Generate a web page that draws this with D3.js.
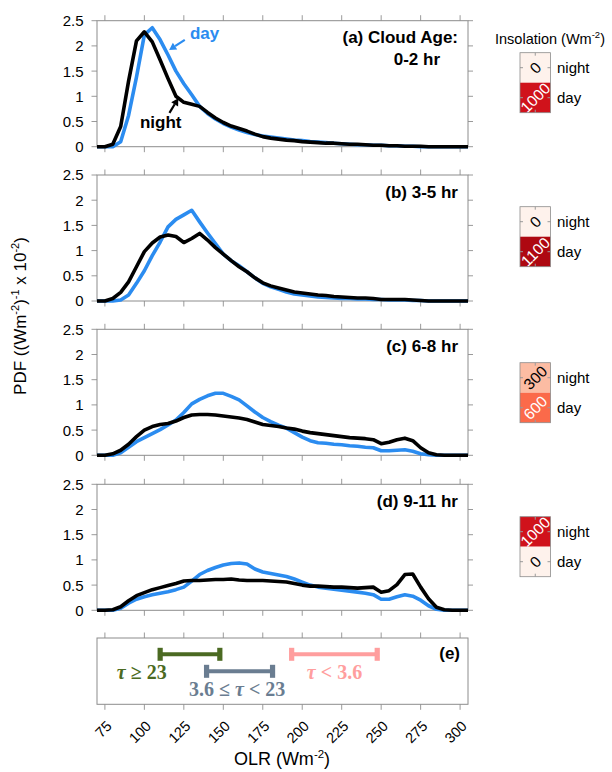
<!DOCTYPE html>
<html><head><meta charset="utf-8">
<script src="https://cdn.jsdelivr.net/npm/d3@7"></script>
<style>body{margin:0;background:#fff} svg{display:block}</style>
</head><body><svg id="c" width="612" height="772"></svg>
<script>
// ---------- DATA ----------
const olr = [70,75,80,85,90,95,100,105,110,115,120,125,130,135,140,145,150,155,160,165,170,175,180,185,190,195,200,205,210,215,220,225,230,235,240,245,250,255,260,265,270,275,280,285,290,295,300,305];

const dayA   = [0,0,0,0.1,0.62,1.38,2.22,2.36,2.12,1.82,1.5,1.25,1.03,0.8,0.66,0.55,0.46,0.39,0.33,0.28,0.24,0.21,0.19,0.17,0.15,0.13,0.12,0.1,0.09,0.08,0.07,0.06,0.05,0.04,0.04,0.03,0.03,0.02,0.02,0.01,0.01,0,0,0,0,0,0,0];
const nightA = [0,0,0.05,0.4,1.3,2.1,2.28,2.08,1.72,1.35,1.0,0.88,0.84,0.8,0.68,0.57,0.48,0.41,0.36,0.31,0.25,0.2,0.17,0.15,0.13,0.12,0.1,0.09,0.08,0.07,0.07,0.06,0.05,0.05,0.04,0.03,0.03,0.02,0.02,0.01,0.01,0.01,0,0,0,0,0,0];
const dayB   = [0,0,0,0.02,0.12,0.35,0.6,0.9,1.17,1.47,1.62,1.71,1.8,1.57,1.35,1.14,0.93,0.8,0.7,0.58,0.46,0.35,0.28,0.23,0.18,0.14,0.12,0.1,0.08,0.07,0.06,0.05,0.05,0.04,0.04,0.03,0.03,0.02,0.02,0.02,0.01,0.01,0,0,0,0,0,0];
const nightB = [0,0,0.05,0.17,0.38,0.68,0.98,1.15,1.27,1.31,1.28,1.16,1.24,1.34,1.21,1.06,0.93,0.8,0.68,0.58,0.46,0.36,0.3,0.26,0.22,0.18,0.16,0.14,0.12,0.11,0.09,0.08,0.07,0.06,0.06,0.05,0.03,0.03,0.03,0.03,0.02,0.01,0,0,0,0,0,0];
const dayC   = [0,0,0,0.05,0.16,0.27,0.35,0.43,0.51,0.6,0.7,0.85,1.02,1.11,1.18,1.23,1.23,1.17,1.1,0.98,0.86,0.75,0.67,0.6,0.54,0.45,0.36,0.29,0.25,0.24,0.22,0.21,0.19,0.18,0.16,0.15,0.09,0.09,0.1,0.11,0.08,0.03,0.01,0,0,0,0,0];
const nightC = [0,0,0.03,0.1,0.22,0.37,0.5,0.57,0.61,0.63,0.68,0.75,0.8,0.81,0.81,0.8,0.78,0.76,0.74,0.71,0.66,0.61,0.59,0.57,0.54,0.52,0.48,0.45,0.43,0.41,0.39,0.37,0.35,0.34,0.33,0.31,0.23,0.26,0.31,0.34,0.29,0.15,0.05,0.01,0,0,0,0];
const dayD   = [0,0,0,0.04,0.14,0.22,0.27,0.31,0.34,0.37,0.41,0.46,0.58,0.71,0.79,0.85,0.9,0.93,0.94,0.92,0.82,0.76,0.73,0.7,0.67,0.62,0.56,0.5,0.46,0.44,0.42,0.4,0.38,0.36,0.34,0.31,0.22,0.22,0.27,0.31,0.28,0.2,0.09,0.02,0,0,0,0];
const nightD = [0,0,0.01,0.07,0.19,0.29,0.35,0.41,0.45,0.49,0.53,0.58,0.59,0.59,0.6,0.61,0.61,0.62,0.6,0.59,0.59,0.59,0.58,0.57,0.56,0.53,0.5,0.48,0.48,0.47,0.46,0.46,0.45,0.44,0.45,0.46,0.36,0.39,0.51,0.71,0.72,0.46,0.23,0.06,0.01,0,0,0];

const daySeries   = [dayA, dayB, dayC, dayD];
const nightSeries = [nightA, nightB, nightC, nightD];
const panelTitles = ["(a) Cloud Age:", "(b) 3-5 hr", "(c) 6-8 hr", "(d) 9-11 hr"];
const nightInsol  = [0, 0, 300, 1000];
const dayInsol    = [1000, 1100, 600, 0];
const insolValues = [0, 300, 600, 1000, 1100];
const insolColors = ["#fef2ec", "#fcbca3", "#fb6a4a", "#d0121b", "#ae0811"];

const xTicks = [75,100,125,150,175,200,225,250,275,300];
const yTicks = [0,0.5,1,1.5,2,2.5];

const tauLabels = ["τ ≥ 23", "3.6 ≤ τ < 23", "τ < 3.6"];
const tauLo     = [110, 139.4, 193.3];
const tauHi     = [147.8, 181.2, 247.5];
const tauColors = ["#4b6a22", "#6a7d91", "#ff9e9e"];

// ---------- LAYOUT ----------
const svg = d3.select("#c");
const font = "'Liberation Sans', Arial, Helvetica, sans-serif";
const X0 = 97, X1 = 468;
const panelTops = [20.7, 175, 329.3, 484.3];
const PH = 126;
const x = d3.scaleLinear().domain([70, 305]).range([X0, X1]);
const insolColor = d3.scaleOrdinal().domain(insolValues).range(insolColors);
const blue = "#2b8cf0";
const frame = "#8c8c8c";
const tickCol = "#9a9a9a";

function xTickMarks(g, yTop, yBot) {
  g.selectAll(null).data(xTicks).enter().append("line")
    .attr("x1", d => x(d)).attr("x2", d => x(d))
    .attr("y1", yTop - 5.5).attr("y2", yTop).attr("stroke", tickCol);
  g.selectAll(null).data(xTicks).enter().append("line")
    .attr("x1", d => x(d)).attr("x2", d => x(d))
    .attr("y1", yBot).attr("y2", yBot + 5.5).attr("stroke", tickCol);
}

panelTops.forEach((top, i) => {
  const y = d3.scaleLinear().domain([0, 2.5]).range([top + PH, top]);
  const g = svg.append("g");
  g.selectAll(null).data(yTicks).enter().append("line")
    .attr("x1", X0 - 5.5).attr("x2", X0).attr("y1", d => y(d)).attr("y2", d => y(d)).attr("stroke", tickCol);
  g.selectAll(null).data(yTicks).enter().append("line")
    .attr("x1", X1).attr("x2", X1 + 5).attr("y1", d => y(d)).attr("y2", d => y(d)).attr("stroke", tickCol);
  g.selectAll(null).data(yTicks).enter().append("text")
    .attr("x", 83.5).attr("y", d => y(d)).attr("dy", "0.36em")
    .attr("text-anchor", "end").attr("font-family", font).attr("font-size", 15)
    .text(d => d);
  xTickMarks(g, top, top + PH);
  g.append("rect").attr("x", X0).attr("y", top).attr("width", X1 - X0).attr("height", PH)
    .attr("fill", "none").attr("stroke", frame).attr("stroke-width", 1);
  const line = d3.line().x((d, k) => x(olr[k])).y(d => y(d));
  g.append("path").attr("d", line(daySeries[i])).attr("fill", "none")
    .attr("stroke", blue).attr("stroke-width", 3.6).attr("stroke-linejoin", "round");
  g.append("path").attr("d", line(nightSeries[i])).attr("fill", "none")
    .attr("stroke", "#000").attr("stroke-width", 3.6).attr("stroke-linejoin", "round");
  g.append("text").attr("x", 458).attr("y", top + 22.5).attr("text-anchor", "end")
    .attr("font-family", font).attr("font-weight", "bold").attr("font-size", 17)
    .text(panelTitles[i]);
  if (i === 0) {
    g.append("text").attr("x", 440).attr("y", top + 44.5).attr("text-anchor", "end")
      .attr("font-family", font).attr("font-weight", "bold").attr("font-size", 17).text("0-2 hr");
    g.append("text").attr("x", x(128.9)).attr("y", y(2.13)).attr("fill", blue)
      .attr("font-family", font).attr("font-weight", "bold").attr("font-size", 17).text("day");
    g.append("text").attr("x", x(97.2)).attr("y", y(0.365)).attr("fill", "#000")
      .attr("font-family", font).attr("font-weight", "bold").attr("font-size", 17).text("night");
    const arrow = (x1, y1, x2, y2, col) => {
      const ang = Math.atan2(y2 - y1, x2 - x1), L = 7, W = 4;
      const bx = x2 - L * Math.cos(ang), by = y2 - L * Math.sin(ang);
      g.append("line").attr("x1", x1).attr("y1", y1).attr("x2", bx).attr("y2", by)
        .attr("stroke", col).attr("stroke-width", 2.2);
      g.append("polygon").attr("fill", col).attr("points", [
        [x2, y2],
        [bx + W * Math.sin(ang), by - W * Math.cos(ang)],
        [bx - W * Math.sin(ang), by + W * Math.cos(ang)]
      ].map(p => p.join(",")).join(" "));
    };
    arrow(x(125.6), y(2.12), x(115.7), y(1.92), blue);
    arrow(x(115.9), y(0.67), x(121.5), y(0.96), "#000");
  }
  const lg = svg.append("g");
  const bx = 520, bw = 30.5, cellH = 30, btop = [52.7, 206.7, 362.7, 516.7][i];
  [[nightInsol[i], "night"], [dayInsol[i], "day"]].forEach(([v, lab], j) => {
    const cy = btop + j * cellH;
    lg.append("rect").attr("x", bx).attr("y", cy).attr("width", bw).attr("height", cellH)
      .attr("fill", insolColor(v));
    const dark = v >= 600;
    lg.append("text").attr("transform", `translate(${bx + bw / 2},${cy + cellH / 2}) rotate(-45)`)
      .attr("text-anchor", "middle").attr("dy", "0.36em")
      .attr("font-family", font).attr("font-size", 15.5)
      .attr("fill", dark ? "#fff" : "#000").text(v);
    lg.append("text").attr("x", 557).attr("y", cy + cellH / 2 + 5.5)
      .attr("font-family", font).attr("font-size", 15).text(lab);
    lg.append("line").attr("x1", bx).attr("x2", bx + 3).attr("y1", cy + cellH / 2).attr("y2", cy + cellH / 2).attr("stroke", tickCol);
    lg.append("line").attr("x1", bx + bw - 3).attr("x2", bx + bw).attr("y1", cy + cellH / 2).attr("y2", cy + cellH / 2).attr("stroke", tickCol);
  });
  lg.append("rect").attr("x", bx).attr("y", btop).attr("width", bw).attr("height", 2 * cellH)
    .attr("fill", "none").attr("stroke", frame).attr("stroke-width", 0.8);
  lg.append("line").attr("x1", bx + bw / 2).attr("x2", bx + bw / 2).attr("y1", btop).attr("y2", btop + 3).attr("stroke", tickCol);
  lg.append("line").attr("x1", bx + bw / 2).attr("x2", bx + bw / 2).attr("y1", btop + 2 * cellH - 3).attr("y2", btop + 2 * cellH).attr("stroke", tickCol);
});

const lt = svg.append("text").attr("x", 495).attr("y", 44).attr("font-family", font).attr("font-size", 14.5);
lt.append("tspan").text("Insolation (Wm");
lt.append("tspan").attr("font-size", 9.5).attr("dy", -6).text("-2");
lt.append("tspan").attr("dy", 6).text(")");

// ---------- PANEL (e) ----------
const eTop = 638, eBot = 704.3;
const ge = svg.append("g");
xTickMarks(ge, eTop, eBot);
ge.append("rect").attr("x", X0).attr("y", eTop).attr("width", X1 - X0).attr("height", eBot - eTop)
  .attr("fill", "none").attr("stroke", frame).attr("stroke-width", 1);
const barY = [654.3, 671.3, 654.3];
const labPos = [[141.8, 679.3], [237.2, 696], [334.5, 679.3]];
tauLabels.forEach((lab, k) => {
  ge.append("line").attr("x1", x(tauLo[k])).attr("x2", x(tauHi[k])).attr("y1", barY[k]).attr("y2", barY[k])
    .attr("stroke", tauColors[k]).attr("stroke-width", 4);
  [tauLo[k], tauHi[k]].forEach(v => {
    ge.append("rect").attr("x", x(v) - 2.6).attr("y", barY[k] - 6.5).attr("width", 5.2).attr("height", 13)
      .attr("fill", tauColors[k]);
  });
  const t = ge.append("text").attr("x", labPos[k][0]).attr("y", labPos[k][1]).attr("text-anchor", "middle")
    .attr("font-family", "'Liberation Serif', 'Times New Roman', serif").attr("font-weight", "bold")
    .attr("font-size", 20).attr("fill", tauColors[k]);
  lab.split(/(τ)/).filter(s => s.length).forEach(part => {
    const sp = t.append("tspan").text(part);
    if (part === "τ") sp.attr("font-style", "italic");
  });
});
ge.append("text").attr("x", 460).attr("y", 659.3).attr("text-anchor", "end")
  .attr("font-family", font).attr("font-weight", "bold").attr("font-size", 17).text("(e)");
ge.selectAll(null).data(xTicks).enter().append("text")
  .attr("transform", d => `translate(${x(d) + 4},${eBot + 19}) rotate(-45)`)
  .attr("text-anchor", "end").attr("dy", "0.36em")
  .attr("font-family", font).attr("font-size", 14.5).text(d => d);

const xt = svg.append("text").attr("x", 282).attr("y", 765).attr("text-anchor", "middle")
  .attr("font-family", font).attr("font-size", 18);
xt.append("tspan").text("OLR (Wm");
xt.append("tspan").attr("font-size", 11.5).attr("dy", -7).text("-2");
xt.append("tspan").attr("dy", 7).text(")");

const yt = svg.append("text").attr("transform", "translate(26,316) rotate(-90)").attr("text-anchor", "middle")
  .attr("font-family", font).attr("font-size", 17);
yt.append("tspan").text("PDF ((Wm");
yt.append("tspan").attr("font-size", 11).attr("dy", -7).text("-2");
yt.append("tspan").attr("dy", 7).text(")");
yt.append("tspan").attr("font-size", 11).attr("dy", -7).text("-1");
yt.append("tspan").attr("dy", 7).text(" x 10");
yt.append("tspan").attr("font-size", 11).attr("dy", -7).text("-2");
yt.append("tspan").attr("dy", 7).text(")");
</script>
</body></html>
